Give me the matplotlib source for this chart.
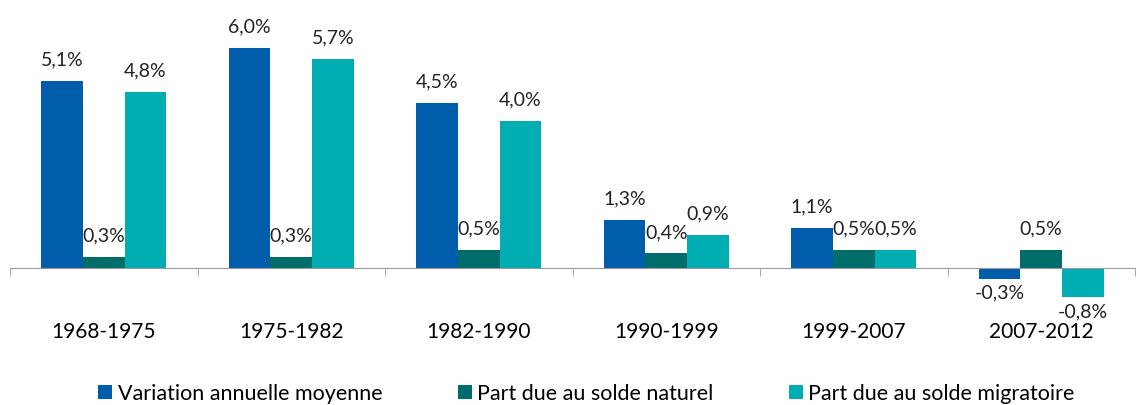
import matplotlib.pyplot as plt
import numpy as np

periodes = ["1968-1975", "1975-1982", "1982-1990", "1990-1999", "1999-2007", "2007-2012"]
variation = [5.1, 6.0, 4.5, 1.3, 1.1, -0.3]
solde_naturel = [0.3, 0.3, 0.5, 0.4, 0.5, 0.5]
solde_migratoire = [4.8, 5.7, 4.0, 0.9, 0.5, -0.8]

series = [
    ("Variation annuelle moyenne", variation, "#005DAB"),
    ("Part due au solde naturel", solde_naturel, "#006D6A"),
    ("Part due au solde migratoire", solde_migratoire, "#00ADB3"),
]

plt.rcParams['font.family'] = ['Lato', 'DejaVu Sans']

fig = plt.figure(figsize=(11.43, 4.05), dpi=100)
ax = fig.add_axes([10 / 1143, 1 - 300 / 405, 1125 / 1143, 280 / 405])

x = np.arange(len(periodes))
w = 0.222
handles = []
for i, (name, vals, col) in enumerate(series):
    pos = x + (i - 1) * w
    bars = ax.bar(pos, vals, width=w, color=col, label=name)
    handles.append(bars)
    for px, v in zip(pos, vals):
        txt = ("%.1f%%" % v).replace(".", ",")
        if v >= 0:
            ax.annotate(txt, (px, v), xytext=(0, 9), textcoords="offset points",
                        ha="center", va="bottom", fontsize=14, color="#222222")
        else:
            ax.annotate(txt, (px, v), xytext=(0, -4), textcoords="offset points",
                        ha="center", va="top", fontsize=14, color="#222222")

ax.set_xlim(-0.5, len(periodes) - 0.5)
ax.set_ylim(-0.87, 6.76)
ax.set_yticks([])
for s in ["top", "left", "right"]:
    ax.spines[s].set_visible(False)
ax.spines["bottom"].set_position(("data", 0))
ax.spines["bottom"].set_color("#9a9a9a")
ax.set_xticks(x)
ax.set_xticklabels(periodes, fontsize=15)
ax.set_xticks(np.arange(len(periodes) + 1) - 0.5, minor=True)
ax.tick_params(axis="x", which="major", length=0, pad=39)
ax.tick_params(axis="x", which="minor", length=6, color="#9a9a9a", direction="out")

fig.legend(handles=handles, loc="lower center", ncol=3, frameon=False,
           fontsize=15.5, handlelength=0.65, handleheight=0.65, handletextpad=0.25,
           columnspacing=3.5, bbox_to_anchor=(0.513, -0.045))

fig.savefig("out.png", dpi=100)
